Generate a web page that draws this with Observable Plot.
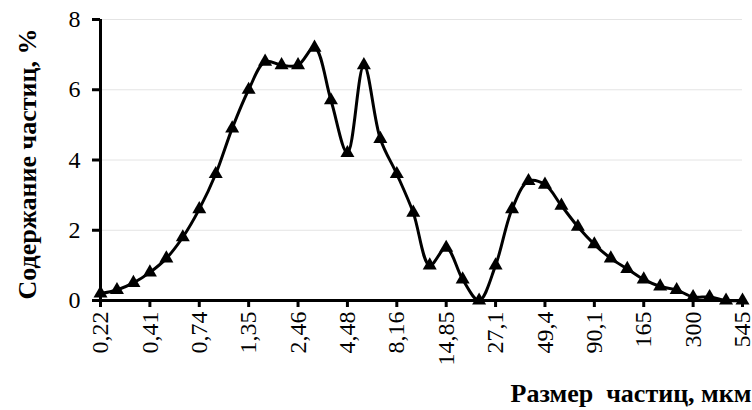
<!DOCTYPE html>
<html>
<head>
<meta charset="utf-8">
<script src="https://cdn.jsdelivr.net/npm/d3@7"></script>
<script src="https://cdn.jsdelivr.net/npm/@observablehq/plot@0.6"></script>
<style>
  html, body { margin: 0; padding: 0; background: #fff; overflow: hidden; }
  #chart svg { display: block; font-family: "Liberation Serif", "Times New Roman", serif !important; }
  #chart svg text { font-family: "Liberation Serif", "Times New Roman", serif !important; }
</style>
</head>
<body>
<div id="chart"></div>
<script>
// Tick labels (every third measured size), μm
const tickLabels = ["0,22","0,41","0,74","1,35","2,46","4,48","8,16","14,85","27,1","49,4","90,1","165","300","545"];
// Particle content, % (one value per measured size class)
const values = [0.2,0.3,0.5,0.8,1.2,1.8,2.6,3.6,4.9,6.0,
                6.8,6.7,6.7,7.2,5.7,4.2,6.7,4.6,3.6,2.5,
                1.0,1.5,0.6,0.0,1.0,2.6,3.4,3.3,2.7,2.1,
                1.6,1.2,0.9,0.6,0.4,0.3,0.1,0.1,0.0,0.0];
const yTicks = [0, 2, 4, 6, 8];
const yTitle = "Содержание частиц, %";
const xTitle = "Размер  частиц, мкм";

const data = values.map((v, i) => ({i, v}));
const xTicks = tickLabels.map((_, k) => k * 3);

const chart = Plot.plot({
  width: 752,
  height: 410,
  marginLeft: 100,
  marginRight: 10,
  marginTop: 19,
  marginBottom: 110,
  style: "background: #fff; color: #000; overflow: hidden; font-family: 'Liberation Serif', serif;",
  x: {type: "linear", domain: [0, values.length - 1]},
  y: {domain: [0, 8]},
  marks: [
    Plot.ruleY(yTicks.filter(d => d > 0), {stroke: "#e4e4e4", strokeWidth: 1}),
    Plot.axisY({ticks: yTicks, tickSize: 8, tickPadding: 12, fontSize: 24, strokeWidth: 3, label: null}),
    Plot.axisX({ticks: xTicks, tickFormat: d => tickLabels[Math.round(d / 3)], tickRotate: -90, tickSize: 7, tickPadding: 4, fontSize: 24, strokeWidth: 3, label: null}),
    Plot.ruleX([0], {stroke: "#000", strokeWidth: 3}),
    Plot.ruleY([0], {stroke: "#000", strokeWidth: 3}),
    Plot.line(data, {x: "i", y: "v", curve: "catmull-rom", stroke: "#000", strokeWidth: 3}),
    Plot.dot(data, {x: "i", y: "v", symbol: "triangle", r: 5.2, fill: "#000", stroke: "none"}),
    Plot.text([yTitle], {frameAnchor: "left", textAnchor: "middle", rotate: -90, dx: -73, dy: 4, fontSize: 26, fontWeight: "bold", fill: "#000"}),
    Plot.text([xTitle], {frameAnchor: "bottom-left", textAnchor: "start", lineAnchor: "middle", dx: 410, dy: 93, fontSize: 26, fontWeight: "bold", fill: "#000"})
  ]
});
// make sure tick labels use the serif face at the reference size
d3.select(chart).selectAll('g[aria-label="x-axis tick label"], g[aria-label="y-axis tick label"]')
  .attr("font-size", 24)
  .attr("font-family", "Liberation Serif")
  .style("font-size", "24px")
  .style("font-family", "'Liberation Serif', serif");
d3.select(chart).selectAll('g[aria-label="x-axis tick label"] text, g[aria-label="y-axis tick label"] text')
  .style("font-size", "24px")
  .style("font-family", "'Liberation Serif', serif")
  .style("font-variant", "normal");
document.getElementById("chart").appendChild(chart);
</script>
</body>
</html>
